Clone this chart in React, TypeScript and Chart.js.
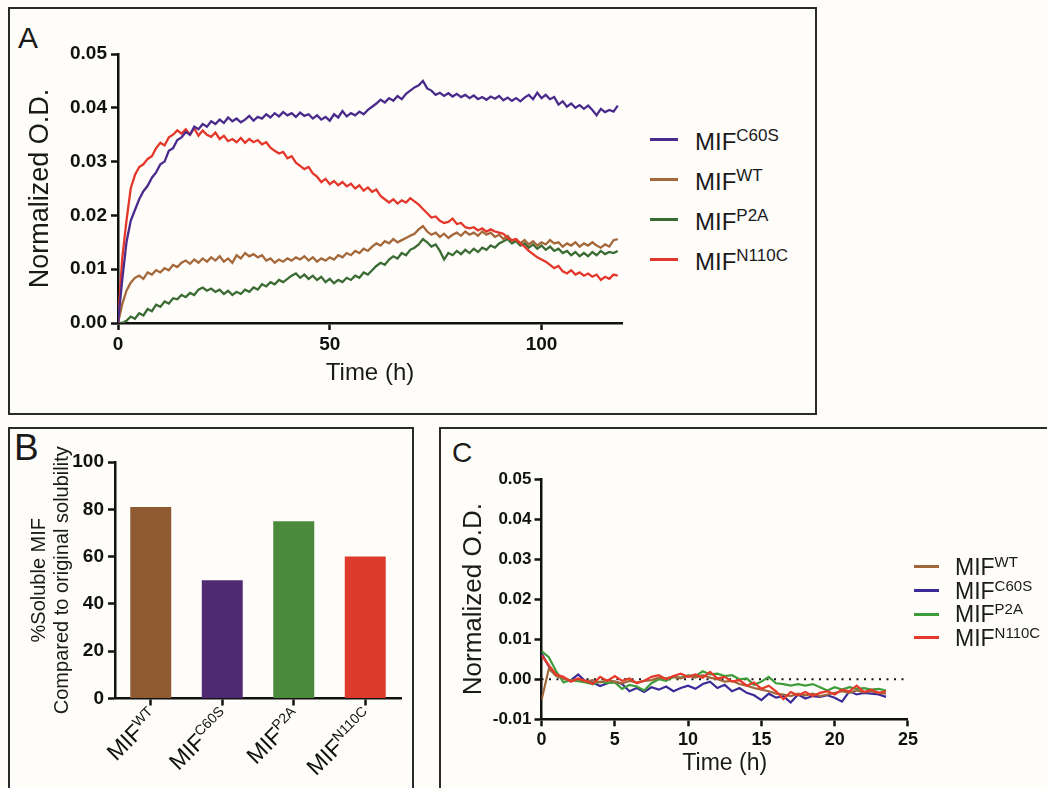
import React, { useEffect, useRef } from "react";
import { Chart, registerables } from "chart.js";

Chart.register(...registerables);

const FONT = "'Liberation Sans', Arial, Helvetica, sans-serif";
Chart.defaults.font.family = FONT;
Chart.defaults.color = "#111";

// ---------- Panel A : Normalized O.D. (milli-units) vs time (h) ----------
const timesA = [
  0, 1, 2, 3, 4, 5, 6, 7, 8, 9, 10, 11, 12, 13, 14, 15, 16, 17, 18, 19, 20, 21, 22, 23, 24, 25, 26, 27, 28, 29,
  30, 31, 32, 33, 34, 35, 36, 37, 38, 39, 40, 41, 42, 43, 44, 45, 46, 47, 48, 49, 50, 51, 52, 53, 54, 55, 56, 57, 58, 59,
  60, 61, 62, 63, 64, 65, 66, 67, 68, 69, 70, 71, 72, 73, 74, 75, 76, 77, 78, 79, 80, 81, 82, 83, 84, 85, 86, 87, 88, 89,
  90, 91, 92, 93, 94, 95, 96, 97, 98, 99, 100, 101, 102, 103, 104, 105, 106, 107, 108, 109, 110, 111, 112, 113, 114, 115, 116, 117, 118,
];
const c60sA = [
  0, 8, 15, 19, 21, 23, 24.5, 25.5, 27, 28, 29.5, 30, 32, 32.5, 34, 34.5, 35.5, 35, 36.5, 36,
  37, 36.5, 37.5, 37, 37.8, 37.2, 38.2, 37.5, 38, 37.3, 37.8, 38.5, 37.6, 38.3, 38, 38.8, 38.2, 39, 38.4, 39.2,
  38.6, 39, 38.3, 39.1, 38.5, 38.8, 38, 38.6, 37.8, 38.3, 37.6, 38.8, 38.2, 39.4, 38.4, 39, 38.6, 39.3, 38.8, 39.6,
  40.2, 40.8, 41.5, 41, 41.8, 41.3, 42.2, 41.6, 42.6, 43.2, 43.8, 44.2, 45, 43.6, 43.2, 42.4, 42.8, 42.2, 42.7, 42.1,
  42.6, 42, 42.4, 41.8, 42.3, 41.6, 42, 41.5, 42.1, 41.7, 42.2, 41.4, 41.9, 41.3, 41.8, 41.2, 41.9, 42.4, 41.6, 42.8,
  41.8, 42.4, 41.6, 42, 40.6, 41.2, 40.2, 40.8, 40, 40.5, 39.8, 40.4, 39.6, 38.6, 39.8, 39.2, 39.6, 39.3, 40.4,
];
const wtA = [
  0, 3.5, 6, 7.5, 8.4, 8.8, 8.2, 9.4, 9, 9.8, 9.4, 10.2, 9.8, 10.8, 10.4, 11.2, 11.6, 11, 11.8, 11.2,
  12, 11.4, 12.2, 11.6, 12.4, 11.4, 12, 11.2, 12.6, 12, 13, 12.4, 12.8, 12.2, 12.6, 11.6, 12, 11.2, 11.8, 11.4,
  12, 11.6, 12.2, 11.8, 12.4, 11.6, 12.2, 11.4, 12, 11.6, 12.2, 11.8, 12.6, 12.2, 13, 12.6, 13.4, 13, 13.8, 13.4,
  14.2, 14.8, 14.4, 15.2, 14.8, 15.6, 15, 15.4, 15.8, 16.2, 16.6, 17.4, 18, 17, 16.4, 16.8, 16, 16.6, 15.8, 16.4,
  16.8, 16.2, 17, 16.4, 16.8, 16.2, 17, 16.4, 16.8, 16, 16.4, 15.6, 16.2, 15.2, 15.6, 14.8, 15.4, 14.6, 15.2, 14.4,
  15, 14.6, 15.4, 14.8, 15, 14.2, 14.8, 14.4, 15, 14.2, 14.8, 14.4, 15, 14.4, 14, 14.6, 14.2, 15.4, 15.6,
];
const p2aA = [
  0, 0, 0.4, 1.2, 0.8, 1.8, 1.4, 2.6, 2.2, 3.4, 3, 4, 3.6, 4.6, 4.4, 5.2, 4.8, 5.6, 5.2, 6.2,
  6.6, 6, 6.4, 5.8, 6.2, 5.4, 6, 5.2, 5.8, 5.4, 6.2, 5.8, 6.6, 6.2, 7.2, 6.8, 7.6, 7.2, 8, 7.6,
  8.2, 8.8, 9.2, 8.4, 9, 8.2, 8.8, 8, 8.6, 7.6, 8.2, 7.4, 8, 7.6, 8.4, 8, 8.8, 8.4, 9.4, 9,
  9.8, 10.6, 11.2, 10.8, 11.8, 12.4, 12, 13, 12.6, 13.6, 14, 14.6, 15.6, 15, 14.2, 14.6, 13.4, 11.8, 13, 12.6,
  13.4, 12.8, 13.6, 13, 13.8, 13.2, 14, 13.6, 14.4, 14, 14.8, 15.2, 15.6, 14.8, 15.2, 14.4, 14.8, 14, 14.6, 13.8,
  14.4, 13.6, 14.2, 13.4, 13.8, 13, 13.4, 12.6, 13.2, 12.4, 13, 12.4, 13.2, 12.6, 13.4, 12.8, 13.2, 13, 13.4,
];
const n110cA = [
  0, 12, 19, 25, 27.5, 29, 29.5, 30.5, 31, 32.5, 33.5, 33, 34.5, 35, 35.8, 35.2, 36, 35, 36.2, 34.8,
  35.8, 35, 34.6, 35.4, 34.2, 34.8, 33.8, 34.2, 33.6, 34.4, 33.5, 34.2, 33.6, 34, 33.2, 33.6, 32.6, 32, 31.5, 31.8,
  30.6, 31, 29.8, 29.2, 28.6, 29, 27.8, 27.2, 26.2, 26.8, 25.8, 26.4, 25.6, 26.2, 25.4, 25.9, 25, 25.6, 24.6, 25.2,
  24.4, 24.8, 23.6, 23, 22.4, 23, 22.2, 22.8, 22.4, 23.2, 22.6, 22, 21.2, 20.4, 19.6, 19.8, 19, 18.6, 18.8, 19.4,
  18.4, 18.6, 17.8, 17.6, 17.8, 17.2, 17.6, 17, 17.4, 17, 16.8, 16.6, 15.8, 15.4, 15.6, 14.8, 14.2, 13.4, 12.8, 12.2,
  11.8, 11.4, 10.8, 10.2, 10.6, 9.6, 9.2, 9.8, 9, 9.4, 8.8, 9.2, 8.6, 9, 8, 8.6, 8.2, 9, 8.8,
];
const yTicksA = [0, 10, 20, 30, 40, 50];
const xTicksA = [0, 50, 100];

// ---------- Panel B : % soluble MIF ----------
const barMutants = ["WT", "C60S", "P2A", "N110C"];
const barValues = [81, 50, 75, 60];

// ---------- Panel C : Normalized O.D. (milli-units) vs time (h) ----------
const timesC = [
  0, 0.5, 1, 1.5, 2, 2.5, 3, 3.5, 4, 4.5, 5, 5.5, 6, 6.5, 7, 7.5, 8, 8.5, 9, 9.5, 10, 10.5, 11, 11.5,
  12, 12.5, 13, 13.5, 14, 14.5, 15, 15.5, 16, 16.5, 17, 17.5, 18, 18.5, 19, 19.5, 20, 20.5, 21, 21.5, 22, 22.5, 23, 23.5,
];
const wtC = [
  -5.2, 2.6, 0.8, 0.2, -0.4, 0, -0.6, -0.2, -0.8, -0.2, -0.6, -1, -0.4, -0.8, -0.4, -0.2, 0.4, 0.2, 0.6, 0.2, 0.8, 0.4, 1, 0.4,
  0, -0.6, -0.4, -1.2, -1.6, -2.2, -2.6, -3, -3.6, -3.8, -4.2, -3.6, -4, -3.6, -4.2, -3.8, -3.4, -3, -3.4, -2.8, -3.2, -3, -3.4, -3.6,
];
const c60sC = [
  6.5, 3.2, 1, 0.2, -0.3, 1.2, -0.5, -0.8, -1.7, -1, -0.6, -1.2, -3, -2.2, -3.2, -2, -2.6, -1.8, -3, -2.2, -1.6, -2.4, -1.2, -0.6,
  -2.2, -1.4, -3, -2.2, -3.4, -4, -5.2, -3.6, -4.6, -4.2, -5.8, -3.8, -4.8, -4.2, -4.4, -4, -4.6, -5.6, -3, -3.8, -3.4, -3.6, -3.8, -4.4,
];
const p2aC = [
  7, 5.5, 2, -0.8, -0.2, -0.5, -0.8, -1.2, -0.6, -1, -0.8, -2.4, -1.4, -1.8, -2.8, -1, 0, -0.4, 0.6, 0.4, 1, 0.8, 2, 1.2,
  1.4, 0.8, 1, 0, 0.2, -1.4, -0.6, 0.6, -1, -1.2, -1.6, -1.2, -1.6, -1.2, -2, -2.8, -2, -2.6, -2, -2.4, -2.2, -2.6, -2.4, -2.8,
];
const n110cC = [
  6, 3.5, 1.2, 0.6, -0.6, 0.2, -0.4, -1.2, 0.6, -0.4, 0.8, -0.4, 0.2, -1, -0.4, 0.6, 1, 0, 0.8, 1.4, 0.6, 1.2, 0.4, 1.8,
  0.2, 0.6, -0.6, -0.2, -1.6, -0.8, -2.4, -1.6, -3, -5, -3.2, -4, -3.2, -4.2, -3.4, -3, -3.8, -2.6, -3, -1.6, -3.2, -2.6, -3.4, -3,
];
const zeroLineC = [
  { x: 0, y: 0 },
  { x: 25, y: 0 },
];

// ---------- colours ----------
const A_COL = { c60s: "#4a2b8c", wt: "#a5683a", p2a: "#3a6b33", n110c: "#e4372b" };
const B_COL = ["#8e5b33", "#4f2a72", "#4a8a3c", "#df3b2d"];
const C_COL = { wt: "#a0673b", c60s: "#3c2a98", p2a: "#3f9c3a", n110c: "#e6392b" };
const AXIS = "#111";

const axisGrid = { drawOnChartArea: false, drawTicks: true, tickLength: 7, tickWidth: 2.5, tickColor: AXIS };
const axisBorder = { color: AXIS, width: 2.5 };

function ChartCanvas(props: { left: number; top: number; width: number; height: number; make: () => any }) {
  const ref = useRef<HTMLCanvasElement | null>(null);
  useEffect(() => {
    const chart = new Chart(ref.current as HTMLCanvasElement, props.make());
    return () => chart.destroy();
  }, []);
  return (
    <canvas
      ref={ref}
      width={props.width}
      height={props.height}
      style={{ position: "absolute", left: props.left, top: props.top, width: props.width, height: props.height }}
    />
  );
}

function lineDs(label: string, data: number[], color: string, width: number) {
  return { label, data, borderColor: color, backgroundColor: color, borderWidth: width, pointRadius: 0, tension: 0, fill: false };
}

function makeA() {
  return {
    type: "line",
    data: {
      labels: timesA,
      datasets: [
        lineDs("MIF C60S", c60sA, A_COL.c60s, 2.3),
        lineDs("MIF N110C", n110cA, A_COL.n110c, 2.3),
        lineDs("MIF WT", wtA, A_COL.wt, 2.3),
        lineDs("MIF P2A", p2aA, A_COL.p2a, 2.3),
      ],
    },
    options: {
      responsive: false,
      animation: false,
      layout: { padding: { top: 24, right: 13, left: 0, bottom: 0 } },
      plugins: { legend: { display: false }, tooltip: { enabled: false } },
      scales: {
        x: {
          type: "linear",
          min: 0,
          max: 119,
          afterBuildTicks: (s: any) => {
            s.ticks = xTicksA.map((v) => ({ value: v }));
          },
          afterFit: (s: any) => {
            s.height = 72;
          },
          ticks: { font: { size: 19, weight: "bold" }, color: AXIS, padding: 3, maxRotation: 0 },
          grid: axisGrid,
          border: axisBorder,
          title: { display: true, text: "Time (h)", font: { size: 24 }, color: "#1a1a1a", padding: { top: 0, bottom: 7 } },
        },
        y: {
          min: 0,
          max: 50,
          afterBuildTicks: (s: any) => {
            s.ticks = yTicksA.map((v) => ({ value: v }));
          },
          afterFit: (s: any) => {
            s.width = 108;
          },
          ticks: {
            font: { size: 19, weight: "bold" },
            color: AXIS,
            padding: 4,
            callback: (v: any) => (Number(v) / 1000).toFixed(2),
          },
          grid: axisGrid,
          border: axisBorder,
          title: { display: true, text: "Normalized O.D.", font: { size: 27 }, color: "#1a1a1a", padding: { top: 14, bottom: 0 } },
        },
      },
    },
  };
}

const barLabelPlugin = {
  id: "barLabels",
  afterDraw(chart: any) {
    const ctx = chart.ctx;
    const xs = chart.scales.x;
    const y0 = chart.chartArea.bottom;
    barMutants.forEach((sup, i) => {
      const x = xs.getPixelForValue(i);
      ctx.save();
      ctx.translate(x + 4, y0 + 15);
      ctx.rotate(-Math.PI / 4);
      ctx.fillStyle = "#111";
      ctx.textAlign = "left";
      ctx.textBaseline = "alphabetic";
      ctx.font = `14px ${FONT}`;
      const w2 = ctx.measureText(sup).width;
      ctx.font = `23px ${FONT}`;
      const w1 = ctx.measureText("MIF").width;
      ctx.fillText("MIF", -(w1 + w2), 7);
      ctx.font = `14px ${FONT}`;
      ctx.fillText(sup, -w2, -2);
      ctx.restore();
    });
  },
};

function makeB() {
  return {
    type: "bar",
    data: {
      labels: barMutants,
      datasets: [
        {
          label: "%Soluble MIF",
          data: barValues,
          backgroundColor: B_COL,
          borderWidth: 0,
          barPercentage: 0.573,
          categoryPercentage: 1,
        },
      ],
    },
    plugins: [barLabelPlugin],
    options: {
      responsive: false,
      animation: false,
      layout: { padding: { top: 22, right: 9, left: 0, bottom: 0 } },
      plugins: { legend: { display: false }, tooltip: { enabled: false } },
      scales: {
        x: {
          type: "category",
          offset: true,
          afterFit: (s: any) => {
            s.height = 86.5;
          },
          ticks: { display: false },
          grid: { ...axisGrid, offset: false },
          border: axisBorder,
        },
        y: {
          min: 0,
          max: 100,
          afterFit: (s: any) => {
            s.width = 105;
          },
          ticks: { stepSize: 20, font: { size: 19, weight: "bold" }, color: AXIS, padding: 4 },
          grid: axisGrid,
          border: axisBorder,
          title: {
            display: true,
            text: ["%Soluble MIF", "Compared to original solubility"],
            font: { size: 20, lineHeight: 1.15 },
            color: "#1a1a1a",
            padding: { top: 18, bottom: 0 },
          },
        },
      },
    },
  };
}

function makeC() {
  return {
    type: "line",
    data: {
      labels: timesC,
      datasets: [
        lineDs("MIF N110C", n110cC, C_COL.n110c, 2.2),
        lineDs("MIF WT", wtC, C_COL.wt, 2.2),
        lineDs("MIF P2A", p2aC, C_COL.p2a, 2.2),
        lineDs("MIF C60S", c60sC, C_COL.c60s, 2.2),
        {
          label: "zero",
          data: zeroLineC,
          borderColor: "#111",
          borderWidth: 2,
          borderDash: [2, 5.5],
          pointRadius: 0,
          fill: false,
        },
      ],
    },
    options: {
      responsive: false,
      animation: false,
      layout: { padding: { top: 19, right: 4.5, left: 0, bottom: 0 } },
      plugins: { legend: { display: false }, tooltip: { enabled: false } },
      scales: {
        x: {
          type: "linear",
          min: 0,
          max: 25,
          afterFit: (s: any) => {
            s.height = 60.7;
          },
          ticks: { stepSize: 5, font: { size: 18, weight: "bold" }, color: AXIS, padding: 3, maxRotation: 0 },
          grid: axisGrid,
          border: axisBorder,
          title: { display: true, text: "Time (h)", font: { size: 23 }, color: "#1a1a1a", padding: { top: 0, bottom: 2.2 } },
        },
        y: {
          min: -10,
          max: 50,
          afterFit: (s: any) => {
            s.width = 100.5;
          },
          ticks: {
            stepSize: 10,
            font: { size: 17, weight: "bold" },
            color: AXIS,
            padding: 3,
            callback: (v: any) => (Number(v) / 1000).toFixed(2),
          },
          grid: axisGrid,
          border: axisBorder,
          title: { display: true, text: "Normalized O.D.", font: { size: 26 }, color: "#1a1a1a", padding: { top: 17.4, bottom: 0 } },
        },
      },
    },
  };
}

function LegendItem(props: {
  x: number;
  lineX: number;
  lineW: number;
  y: number;
  dy: number;
  color: string;
  sup: string;
  size: number;
  supSize: number;
  supRaise: number;
}) {
  const { x, lineX, lineW, y, dy, color, sup, size, supSize, supRaise } = props;
  return (
    <>
      <div style={{ position: "absolute", left: lineX, top: y - 1.5, width: lineW, height: 3, background: color }} />
      <div
        style={{
          position: "absolute",
          left: x,
          top: y + dy - 0.488 * size,
          fontSize: size,
          lineHeight: `${size}px`,
          fontFamily: FONT,
          color: "#1a1a1a",
          whiteSpace: "nowrap",
        }}
      >
        MIF
        <span style={{ fontSize: supSize, position: "relative", top: -supRaise }}>{sup}</span>
      </div>
    </>
  );
}

const boxStyle = (left: number, top: number, width: number, height: number): React.CSSProperties => ({
  position: "absolute",
  left,
  top,
  width,
  height,
  border: "2.5px solid #2a2a2a",
  boxSizing: "border-box",
});

const letterStyle = (left: number, top: number, size: number): React.CSSProperties => ({
  position: "absolute",
  left,
  top,
  fontSize: size,
  lineHeight: `${size}px`,
  fontFamily: FONT,
  color: "#1a1a1a",
});

export default function App() {
  const legendA = [
    { sup: "C60S", color: A_COL.c60s, y: 139 },
    { sup: "WT", color: A_COL.wt, y: 179 },
    { sup: "P2A", color: A_COL.p2a, y: 219 },
    { sup: "N110C", color: A_COL.n110c, y: 259 },
  ];
  const legendC = [
    { sup: "WT", color: C_COL.wt, y: 566.5 },
    { sup: "C60S", color: C_COL.c60s, y: 590.5 },
    { sup: "P2A", color: C_COL.p2a, y: 614 },
    { sup: "N110C", color: C_COL.n110c, y: 637.5 },
  ];
  return (
    <div
      style={{
        position: "fixed",
        left: 0,
        top: 0,
        width: 1047,
        height: 788,
        overflow: "hidden",
        background: "#fffdfa",
        fontFamily: FONT,
      }}
    >
      <div style={boxStyle(8, 7, 809, 408)} />
      <div style={boxStyle(8, 427, 406, 380)} />
      <div style={boxStyle(439, 427, 640, 380)} />

      <div style={letterStyle(18, 23, 30)}>A</div>
      <div style={letterStyle(14, 428.5, 37)}>B</div>
      <div style={letterStyle(452, 439.4, 28)}>C</div>

      <ChartCanvas left={10} top={30} width={625} height={365} make={makeA} />
      <ChartCanvas left={10} top={440} width={400} height={345} make={makeB} />
      <ChartCanvas left={441} top={460} width={480} height={320} make={makeC} />

      {legendA.map((it) => (
        <LegendItem
          key={it.sup}
          x={695}
          lineX={650}
          lineW={28}
          y={it.y}
          dy={3}
          color={it.color}
          sup={it.sup}
          size={24}
          supSize={17}
          supRaise={9}
        />
      ))}
      {legendC.map((it) => (
        <LegendItem
          key={it.sup}
          x={955}
          lineX={914}
          lineW={25}
          y={it.y}
          dy={0.5}
          color={it.color}
          sup={it.sup}
          size={23}
          supSize={15}
          supRaise={8}
        />
      ))}
    </div>
  );
}
